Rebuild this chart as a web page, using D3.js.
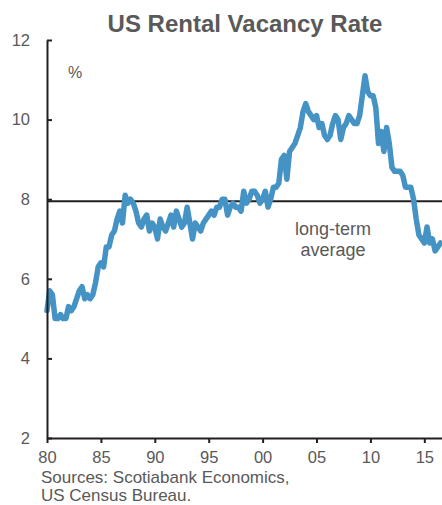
<!doctype html>
<html>
  <head>
    <title>US Rental Vacancy Rate</title>
    <style>
      body { margin: 0; background: #fff; }
      text { font-family: "Liberation Sans", Arial, sans-serif; fill: #595959; }
      .axis path, .axis line { stroke: #231f20; stroke-width: 2px; }
      .axis text { font-size: 16.5px; fill: #595959; }
      .rate { fill: none; stroke: #4593c4; stroke-width: 5.5px; stroke-linejoin: round; stroke-linecap: round; }
      .avg { stroke: #231f20; stroke-width: 2px; }
    </style>
    <script src="https://cdnjs.cloudflare.com/ajax/libs/d3/7.8.5/d3.min.js"></script>
  </head>
  <body>
  </body>
  <script>
    // quarterly rental vacancy rate, %, starting 1980 Q1
    const startYear = 1980;
    const vacancyRate = [
      5.2, 5.7, 5.6, 5.0,   // 1980
      5.0, 5.1, 5.0, 5.0,   // 1981
      5.3, 5.2, 5.3, 5.5,   // 1982
      5.7, 5.8, 5.5, 5.6,   // 1983
      5.5, 5.6, 5.9, 6.3,   // 1984
      6.4, 6.3, 6.8, 6.8,   // 1985
      7.1, 7.2, 7.5, 7.7,   // 1986
      7.4, 8.1, 7.9, 8.0,   // 1987
      7.9, 7.7, 7.4, 7.3,   // 1988
      7.5, 7.6, 7.2, 7.4,   // 1989
      7.3, 7.0, 7.5, 7.3,   // 1990
      7.2, 7.4, 7.6, 7.3,   // 1991
      7.7, 7.5, 7.3, 7.4,   // 1992
      7.8, 7.4, 7.0, 7.4,   // 1993
      7.3, 7.2, 7.4, 7.5,   // 1994
      7.6, 7.7, 7.6, 7.8,   // 1995
      7.8, 8.0, 8.0, 7.6,   // 1996
      7.8, 7.9, 7.8, 7.8,   // 1997
      7.7, 8.2, 7.9, 8.0,   // 1998
      8.2, 8.2, 8.1, 7.9,   // 1999
      8.0, 8.2, 7.8, 8.0,   // 2000
      8.3, 8.3, 8.4, 9.0,   // 2001
      9.1, 8.5, 9.2, 9.3,   // 2002
      9.4, 9.6, 9.8, 10.2,  // 2003
      10.4, 10.2, 10.1, 10.0, // 2004
      10.1, 9.8, 9.9, 9.6,  // 2005
      9.5, 9.6, 9.9, 10.1,  // 2006
      10.0, 9.5, 9.8, 9.9,  // 2007
      10.1, 10.0, 9.9, 9.9, // 2008
      10.1, 10.6, 11.1, 10.7, // 2009
      10.6, 10.6, 10.3, 9.4, // 2010
      9.7, 9.2, 9.8, 9.4,   // 2011
      8.8, 8.7, 8.7, 8.7,   // 2012
      8.6, 8.3, 8.3, 8.3,   // 2013
      8.0, 7.5, 7.1, 7.0,   // 2014
      6.9, 7.3, 6.9, 7.0,   // 2015
      6.7, 6.8, 6.9         // 2016
    ];
    const longTermAvg = 7.95;
    const xTicks = [1980, 1985, 1990, 1995, 2000, 2005, 2010, 2015];
    const yTicks = [2, 4, 6, 8, 10, 12];

    const width = 442, height = 505;
    const margin = {top: 40, right: 0, bottom: 67, left: 47};

    const svg = d3.select("body").append("svg")
        .attr("width", width)
        .attr("height", height);

    const x = d3.scaleLinear()
        .domain([startYear, 2016.64])
        .range([margin.left, width - margin.right]);

    const y = d3.scaleLinear()
        .domain([2, 12])
        .range([height - margin.bottom, margin.top]);

    // title
    svg.append("text")
        .attr("x", 245)
        .attr("y", 32)
        .attr("text-anchor", "middle")
        .style("font-size", "24px")
        .style("font-weight", "bold")
        .text("US Rental Vacancy Rate");

    svg.append("text")
        .attr("x", 68)
        .attr("y", 78)
        .style("font-size", "16px")
        .text("%");

    // long-term average line
    svg.append("line")
        .attr("class", "avg")
        .attr("x1", x.range()[0])
        .attr("x2", x.range()[1])
        .attr("y1", y(longTermAvg))
        .attr("y2", y(longTermAvg));

    const note = svg.append("text")
        .attr("text-anchor", "middle")
        .style("font-size", "18px");
    note.append("tspan").attr("x", 333).attr("y", 235).text("long-term");
    note.append("tspan").attr("x", 333).attr("y", 256).text("average");

    // series
    const line = d3.line()
        .x((d, i) => x(startYear + i / 4))
        .y(d => y(d));

    svg.append("path")
        .datum(vacancyRate)
        .attr("class", "rate")
        .attr("d", line);

    // axes
    svg.append("g")
        .attr("class", "axis")
        .attr("transform", "translate(0," + (height - margin.bottom) + ")")
        .call(d3.axisBottom(x)
          .tickValues(xTicks)
          .tickFormat(d => String(d % 100).padStart(2, "0"))
          .tickSize(5)
          .tickSizeOuter(0)
          .tickPadding(8.5));

    svg.append("g")
        .attr("class", "axis")
        .attr("transform", "translate(" + margin.left + ",0)")
        .call(d3.axisLeft(y)
          .tickValues(yTicks)
          .tickSize(-5)
          .tickSizeOuter(0)
          .tickPadding(17));

    // source
    const src = svg.append("text")
        .style("font-size", "17px");
    src.append("tspan").attr("x", 41).attr("y", 482.8).text("Sources: Scotiabank Economics,");
    src.append("tspan").attr("x", 41).attr("y", 501.4).text("US Census Bureau.");
  </script>
</html>
